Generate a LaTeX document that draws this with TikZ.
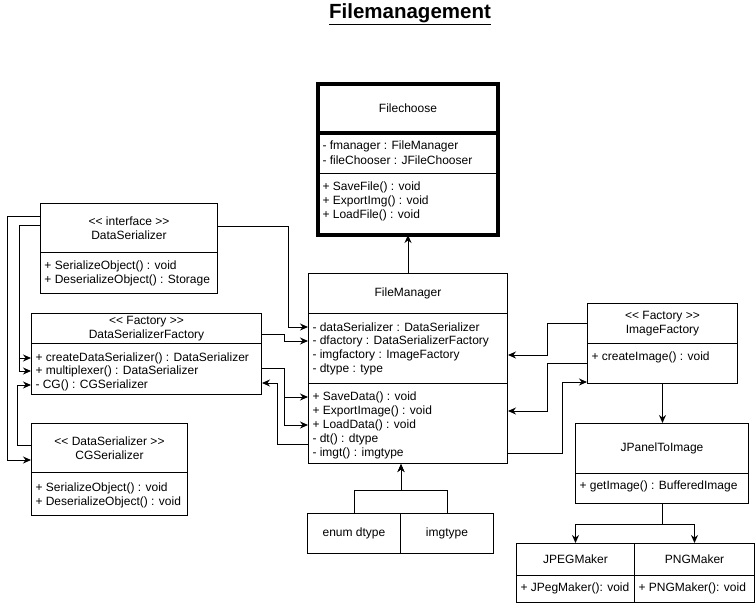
\documentclass[tikz,border=0pt]{standalone}
\usepackage{fontspec}
\setmainfont{Liberation Sans}[Ligatures=TeXOff]
\usetikzlibrary{arrows.meta}

\begin{document}
\begin{tikzpicture}[x=1pt, y=-1pt, line width=1pt, font=\fontsize{12}{14}\selectfont]

\tikzset{
  part/.style={draw, rectangle, anchor=north west, inner sep=0pt, align=center},
  row/.style={anchor=west, inner sep=0pt},
  conn/.style={-{Stealth[length=8pt, width=7pt]}}
}

\useasboundingbox (0,0) rectangle (756,606);

% Title
\node (title) at (410,14) {\fontsize{20.5}{24}\selectfont\bfseries\underline{Filemanagement}};

% Filechoose
\node[part, minimum width=179pt, minimum height=48pt] (fcH) at (318,84) {Filechoose};
\node[part, minimum width=179pt, minimum height=41pt] (fcA) at (318,132) {};
\node[part, minimum width=179pt, minimum height=61pt] (fcM) at (318,173) {};
\node[row] (fcR1) at ([xshift=4pt,yshift=-14pt]fcA.north west) {- fmanager : FileManager};
\node[row] (fcR2) at ([xshift=4pt,yshift=-28pt]fcA.north west) {- fileChooser : JFileChooser};
\node[row] (fcR3) at ([xshift=4pt,yshift=-14pt]fcM.north west) {+ SaveFile() : void};
\node[row] (fcR4) at ([xshift=4pt,yshift=-28pt]fcM.north west) {+ ExportImg() : void};
\node[row] (fcR5) at ([xshift=4pt,yshift=-42pt]fcM.north west) {+ LoadFile() : void};
\draw[line width=4pt] (fcH.north west) rectangle (fcM.south east);
\draw[line width=4pt] (fcH.south west) -- (fcH.south east);

% DataSerializer
\node[part, minimum width=177pt, minimum height=49pt] (dsH) at (40,203) {<< interface >>\\DataSerializer};
\node[part, minimum width=177pt, minimum height=41pt] (dsM) at (40,252) {};
\node[row] (dsR1) at ([xshift=4pt,yshift=-14pt]dsM.north west) {+ SerializeObject() : void};
\node[row] (dsR2) at ([xshift=4pt,yshift=-28pt]dsM.north west) {+ DeserializeObject() : Storage};

% DataSerializerFactory
\node[part, minimum width=230pt, minimum height=30pt] (dsfH) at (31,313) {<< Factory >>\\DataSerializerFactory};
\node[part, minimum width=230pt, minimum height=51pt] (dsfM) at (31,343) {};
\node[row] (dsfR1) at ([xshift=4pt,yshift=-15pt]dsfM.north west) {+ createDataSerializer() : DataSerializer};
\node[row] (dsfR2) at ([xshift=4pt,yshift=-28pt]dsfM.north west) {+ multiplexer() : DataSerializer};
\node[row] (dsfR3) at ([xshift=4pt,yshift=-42pt]dsfM.north west) {- CG() : CGSerializer};

% CGSerializer
\node[part, minimum width=156pt, minimum height=49pt] (cgH) at (31,423) {<< DataSerializer >>\\CGSerializer};
\node[part, minimum width=156pt, minimum height=43pt] (cgM) at (31,472) {};
\node[row] (cgR1) at ([xshift=4pt,yshift=-16pt]cgM.north west) {+ SerializeObject() : void};
\node[row] (cgR2) at ([xshift=4pt,yshift=-30pt]cgM.north west) {+ DeserializeObject() : void};

% FileManager
\node[part, minimum width=199pt, minimum height=40pt] (fmH) at (308,273) {FileManager};
\node[part, minimum width=199pt, minimum height=70pt] (fmA) at (308,313) {};
\node[part, minimum width=199pt, minimum height=80pt] (fmM) at (308,383) {};
\node[row] (fmR1) at ([xshift=4pt,yshift=-14pt]fmA.north west) {- dataSerializer : DataSerializer};
\node[row] (fmR2) at ([xshift=4pt,yshift=-28pt]fmA.north west) {- dfactory : DataSerializerFactory};
\node[row] (fmR3) at ([xshift=4pt,yshift=-42pt]fmA.north west) {- imgfactory : ImageFactory};
\node[row] (fmR4) at ([xshift=4pt,yshift=-56pt]fmA.north west) {- dtype : type};
\node[row] (fmR5) at ([xshift=4pt,yshift=-14pt]fmM.north west) {+ SaveData() : void};
\node[row] (fmR6) at ([xshift=4pt,yshift=-28pt]fmM.north west) {+ ExportImage() : void};
\node[row] (fmR7) at ([xshift=4pt,yshift=-42pt]fmM.north west) {+ LoadData() : void};
\node[row] (fmR8) at ([xshift=4pt,yshift=-56pt]fmM.north west) {- dt() : dtype};
\node[row] (fmR9) at ([xshift=4pt,yshift=-70pt]fmM.north west) {- imgt() : imgtype};

% ImageFactory
\node[part, minimum width=150pt, minimum height=40pt] (imfH) at (587,303) {<< Factory >>\\ImageFactory};
\node[part, minimum width=150pt, minimum height=40pt] (imfM) at (587,343) {};
\node[row] (imfR1) at ([xshift=4pt,yshift=-14pt]imfM.north west) {+ createImage() : void};

% JPanelToImage
\node[part, minimum width=173pt, minimum height=50pt] (jpH) at (575,423) {JPanelToImage};
\node[part, minimum width=173pt, minimum height=30pt] (jpM) at (575,473) {};
\node[row] (jpR1) at ([xshift=4pt,yshift=-13pt]jpM.north west) {+ getImage() : BufferedImage};

% JPEGMaker, PNGMaker
\node[part, minimum width=118pt, minimum height=32pt] (jpgH) at (516,543) {JPEGMaker};
\node[part, minimum width=118pt, minimum height=27pt] (jpgM) at (516,575) {};
\node[row] (jpgR1) at ([xshift=4pt,yshift=-13pt]jpgM.north west) {+ JPegMaker(): void};
\node[part, minimum width=120pt, minimum height=32pt] (pngH) at (634,543) {PNGMaker};
\node[part, minimum width=120pt, minimum height=27pt] (pngM) at (634,575) {};
\node[row] (pngR1) at ([xshift=4pt,yshift=-13pt]pngM.north west) {+ PNGMaker(): void};

% enum dtype, imgtype
\node[part, minimum width=93pt, minimum height=40pt] (ed) at (307,513) {enum dtype};
\node[part, minimum width=93pt, minimum height=40pt] (it) at (400,513) {imgtype};

% Connectors
\draw[conn] (fmH.north) -- (fcM.south);

\draw[conn] ([yshift=-13pt]dsH.north west) -- ++(-33,0) |- ([yshift=-37pt]cgH.north west);
\draw[conn] ([yshift=-22pt]dsH.north west) -- ++(-21,0) |- (dsfR1.west -| dsfM.west);
\draw[conn] ([yshift=-22pt]dsH.north west) -- ++(-21,0) |- (dsfR2.west -| dsfM.west);
\draw[conn] ([yshift=-22pt]cgH.north west) -- ++(-14,0) |- (dsfR3.west -| dsfM.west);

\draw[conn] ([yshift=-23pt]dsH.north east) -- ++(70,0) |- (fmR1.west -| fmA.west);
\draw[conn] ([yshift=-21pt]dsfH.north east) -- ++(22,0) |- (fmR2.west -| fmA.west);
\draw[conn] ([yshift=-25pt]dsfM.north east) -- ++(22,0) |- (fmR5.west -| fmM.west);
\draw[conn] ([yshift=-25pt]dsfM.north east) -- ++(22,0) |- (fmR7.west -| fmM.west);
\draw[conn] ([yshift=-61pt]fmM.north west) -- ++(-31,0) |- ([yshift=-40pt]dsfM.north east);

\draw[conn] ([yshift=-20pt]imfH.north west) -- ++(-40,0) |- (fmR3.west -| fmA.east);
\draw[conn] ([yshift=-20pt]imfM.north west) -- ++(-40,0) |- (fmR6.west -| fmM.east);
\draw[conn] (fmR9.west -| fmM.east) -- ++(54,0) |- ([yshift=2pt]imfM.south west);

\draw[conn] (imfM.south) -- (imfM.south |- jpH.north);
\draw[conn] (jpM.south) -- ++(0,20) -| (jpgH.north);
\draw[conn] (jpM.south) -- ++(0,20) -| (pngH.north);

\coordinate (fork) at ([yshift=23pt]ed.north east);
\draw[conn] (ed.north) |- (fork) -- (fork |- fmM.south);
\draw[conn] (it.north) |- (fork) -- (fork |- fmM.south);

\end{tikzpicture}
\end{document}
